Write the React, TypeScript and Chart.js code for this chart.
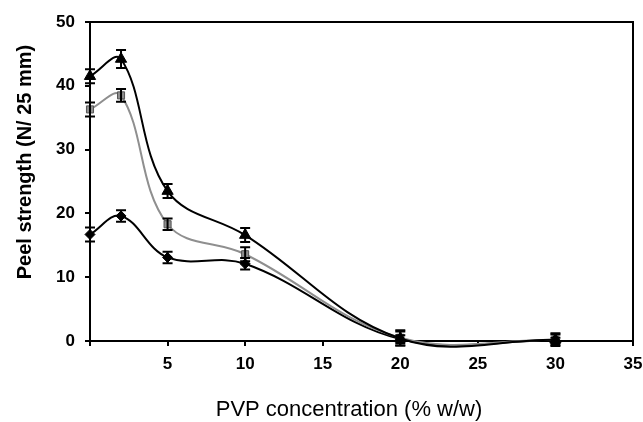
import React, { useEffect, useRef } from "react";
import { Chart, registerables } from "chart.js";

Chart.register(...registerables);

const PVP_CONC = [0, 2, 5, 10, 20, 30];
const TRIANGLE_SERIES = [41.5, 44.2, 23.5, 16.6, 0.4, 0.2];
const TRIANGLE_ERR = [1.1, 1.4, 1.1, 1.1, 1.1, 1.0];
const SQUARE_SERIES = [36.3, 38.5, 18.3, 13.6, 0.5, 0.2];
const SQUARE_ERR = [1.1, 1.0, 0.9, 1.1, 1.2, 0.8];
const DIAMOND_SERIES = [16.7, 19.6, 13.1, 12.1, 0.3, 0.1];
const DIAMOND_ERR = [1.1, 0.9, 0.9, 0.9, 0.6, 0.4];
const X_TICKS = [0, 5, 10, 15, 20, 25, 30, 35];
const Y_TICKS = [0, 10, 20, 30, 40, 50];
const X_TITLE = "PVP concentration (% w/w)";
const Y_TITLE = "Peel strength (N/ 25 mm)";

const ERRORS = [TRIANGLE_ERR, SQUARE_ERR, DIAMOND_ERR];

const FONT = "'Liberation Sans', Arial, sans-serif";

const errorBarPlugin = {
  id: "errorBars",
  afterDatasetsDraw(chart: any) {
    const { ctx } = chart;
    const xs = chart.scales.x;
    const ys = chart.scales.y;
    ctx.save();
    ctx.strokeStyle = "#000";
    ctx.lineWidth = 2;
    chart.data.datasets.forEach((ds: any, i: number) => {
      const errs = ERRORS[i];
      ds.data.forEach((pt: any, j: number) => {
        const x = xs.getPixelForValue(pt.x);
        const yTop = ys.getPixelForValue(pt.y + errs[j]);
        const yBot = ys.getPixelForValue(pt.y - errs[j]);
        const cap = 5;
        ctx.beginPath();
        ctx.moveTo(x, yTop);
        ctx.lineTo(x, yBot);
        ctx.moveTo(x - cap, yTop);
        ctx.lineTo(x + cap, yTop);
        ctx.moveTo(x - cap, yBot);
        ctx.lineTo(x + cap, yBot);
        ctx.stroke();
      });
    });
    ctx.restore();
  },
};

const framePlugin = {
  id: "frame",
  afterDraw(chart: any) {
    const { ctx, chartArea } = chart;
    ctx.save();
    ctx.strokeStyle = "#000";
    ctx.lineWidth = 2;
    ctx.beginPath();
    ctx.moveTo(chartArea.left, chartArea.top);
    ctx.lineTo(chartArea.right, chartArea.top);
    ctx.lineTo(chartArea.right, chartArea.bottom);
    ctx.stroke();

    // axis titles
    ctx.fillStyle = "#000";
    ctx.textAlign = "center";
    ctx.textBaseline = "middle";
    ctx.font = `normal 22px ${FONT}`;
    ctx.fillText(X_TITLE, 349, 410);
    ctx.translate(25, 162);
    ctx.rotate(-Math.PI / 2);
    ctx.font = `bold 20px ${FONT}`;
    ctx.fillText(Y_TITLE, 0, 0);
    ctx.restore();
  },
};

function toPoints(vals: number[]) {
  return PVP_CONC.map((x, i) => ({ x, y: vals[i] }));
}

export default function App() {
  const ref = useRef<HTMLCanvasElement | null>(null);
  useEffect(() => {
    if (!ref.current) return;
    const common = {
      showLine: true,
      tension: 0.38,
      borderWidth: 2,
      clip: false as any,
      pointBorderWidth: 1,
    };
    const chart = new Chart(ref.current, {
      type: "scatter",
      data: {
        datasets: [
          {
            ...common,
            label: "triangle",
            data: toPoints(TRIANGLE_SERIES),
            borderColor: "#000",
            backgroundColor: "#000",
            pointStyle: "triangle",
            pointRadius: 6.5,
            pointBorderColor: "#000",
            pointBackgroundColor: "#000",
          },
          {
            ...common,
            label: "square",
            data: toPoints(SQUARE_SERIES),
            borderColor: "#8f8f8f",
            backgroundColor: "#8f8f8f",
            pointStyle: "rect",
            pointRadius: 5,
            pointBorderColor: "#555",
            pointBackgroundColor: "#8f8f8f",
          },
          {
            ...common,
            label: "diamond",
            data: toPoints(DIAMOND_SERIES),
            borderColor: "#000",
            backgroundColor: "#000",
            pointStyle: "rectRot",
            pointRadius: 5,
            pointBorderColor: "#000",
            pointBackgroundColor: "#000",
          },
        ],
      },
      options: {
        responsive: false,
        animation: false,
        devicePixelRatio: 1,
        layout: { padding: { top: 22, right: 10, left: 0, bottom: 0 } },
        elements: { line: { capBezierPoints: false } },
        plugins: {
          legend: { display: false },
          tooltip: { enabled: false },
        },
        scales: {
          x: {
            type: "linear",
            min: 0,
            max: 35,
            afterFit: (s: any) => {
              s.height = 81;
              s.paddingRight = 0;
              s.paddingLeft = 0;
            },
            afterBuildTicks: (s: any) => {
              s.ticks = X_TICKS.map((v) => ({ value: v }));
            },
            ticks: {
              color: "#000",
              padding: 8,
              maxRotation: 0,
              font: { family: FONT, size: 17, weight: "bold" },
              callback: (v: any) => (v === 0 ? "" : String(v)),
            },
            grid: {
              display: true,
              drawOnChartArea: false,
              drawTicks: true,
              tickLength: 5,
              color: "#000",
              lineWidth: 2,
            },
            border: { display: true, color: "#000", width: 2 },
            title: { display: false },
          },
          y: {
            type: "linear",
            min: 0,
            max: 50,
            afterFit: (s: any) => {
              s.width = 90;
              s.paddingTop = 0;
              s.paddingBottom = 0;
            },
            afterBuildTicks: (s: any) => {
              s.ticks = Y_TICKS.map((v) => ({ value: v }));
            },
            ticks: {
              color: "#000",
              padding: 10,
              font: { family: FONT, size: 17, weight: "bold" },
            },
            grid: {
              display: true,
              drawOnChartArea: false,
              drawTicks: true,
              tickLength: 5,
              color: "#000",
              lineWidth: 2,
            },
            border: { display: true, color: "#000", width: 2 },
            title: { display: false },
          },
        },
      },
      plugins: [errorBarPlugin, framePlugin],
    } as any);
    return () => chart.destroy();
  }, []);
  return (
    <div style={{ position: "absolute", left: 0, top: 0, width: 643, height: 422, background: "#fff" }}>
      <canvas ref={ref} width={643} height={422} />
    </div>
  );
}
